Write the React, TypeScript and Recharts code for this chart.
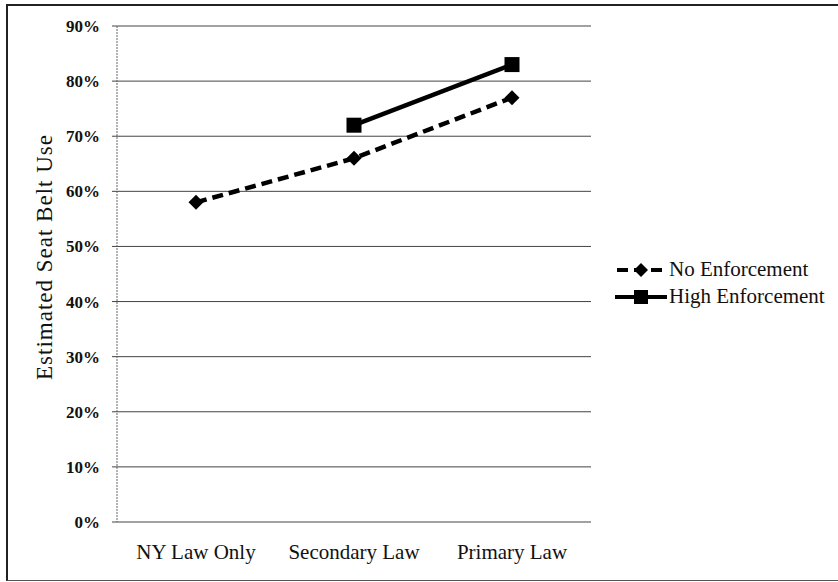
import React from 'react';
import { LineChart, Line, XAxis, YAxis, CartesianGrid, Legend } from 'recharts';

const categories = ['NY Law Only', 'Secondary Law', 'Primary Law'];
const noEnforcement = [58, 66, 77];
const highEnforcement: (number | null)[] = [null, 72, 83];
const yTicks = [0, 10, 20, 30, 40, 50, 60, 70, 80, 90];
const boundaryTicks = [0, 1, 2, 3];
const seriesNames = ['No Enforcement', 'High Enforcement'];

const data = categories.map((name, i) => ({
  name,
  pos: i + 0.5,
  none: noEnforcement[i],
  high: highEnforcement[i],
}));

const FONT = 'Liberation Serif';

const Diamond = (props: any) => {
  const { cx, cy } = props;
  if (cx == null || cy == null) return null;
  const r = 7.5;
  return (
    <polygon
      key={`d-${props.index}`}
      points={`${cx},${cy - r} ${cx + r},${cy} ${cx},${cy + r} ${cx - r},${cy}`}
      fill="#000"
    />
  );
};

const Square = (props: any) => {
  const { cx, cy } = props;
  if (cx == null || cy == null) return null;
  const s = 15;
  return <rect key={`s-${props.index}`} x={cx - s / 2} y={cy - s / 2} width={s} height={s} fill="#000" />;
};

const YLabel = ({ viewBox }: any) => {
  const x = viewBox.x + 44;
  const y = viewBox.y + 231;
  return (
    <text
      x={x}
      y={y}
      transform={`rotate(-90, ${x}, ${y})`}
      textAnchor="middle"
      dominantBaseline="central"
      fontSize={23}
      letterSpacing={1}
      fill="#111"
      fontFamily={FONT}
    >
      Estimated Seat Belt Use
    </text>
  );
};

const renderLegend = () => (
  <div style={{ fontFamily: FONT, fontSize: 21, color: '#111' }}>
    {seriesNames.map((n, i) => (
      <div key={n} style={{ display: 'flex', alignItems: 'center', height: 27 }}>
        <svg width={52} height={20}>
          {i === 0 ? (
            <>
              <line x1={2} y1={10} x2={50} y2={10} stroke="#000" strokeWidth={4} strokeDasharray="11 6" />
              <polygon points="26,3 33,10 26,17 19,10" fill="#000" />
            </>
          ) : (
            <>
              <line x1={0} y1={10} x2={52} y2={10} stroke="#000" strokeWidth={4} />
              <rect x={19} y={3} width={14} height={14} fill="#000" />
            </>
          )}
        </svg>
        <span style={{ marginLeft: 2, fontFamily: FONT }}>{n}</span>
      </div>
    ))}
  </div>
);

export default function App() {
  return (
    <div
      style={{
        position: 'absolute',
        left: 0,
        top: 0,
        width: 838,
        height: 582,
        background: '#fff',
        fontFamily: FONT,
      }}
    >
      <div
        style={{
          position: 'absolute',
          left: 6,
          top: 4,
          width: 840,
          height: 574,
          borderLeft: '2px solid #222',
          borderTop: '2px solid #222',
          borderBottom: '1px solid #555',
        }}
      />
      <LineChart
        width={838}
        height={582}
        data={data}
        margin={{ top: 26, right: 247, bottom: 0, left: 0 }}
        style={{ fontFamily: FONT }}
      >
        <CartesianGrid vertical={false} stroke="#444" strokeWidth={1} />
        <XAxis
          xAxisId="num"
          type="number"
          dataKey="pos"
          domain={[0, 3]}
          ticks={boundaryTicks}
          tick={false}
          tickSize={6}
          height={0}
          axisLine={{ stroke: '#111', strokeWidth: 1.5 }}
          tickLine={{ stroke: '#111', strokeWidth: 1.2 }}
        />
        <XAxis
          xAxisId="cat"
          dataKey="name"
          scale="band"
          height={60}
          axisLine={false}
          tickLine={false}
          tickSize={0}
          tickMargin={22}
          interval={0}
          tick={{ fill: '#111', fontSize: 21, fontFamily: FONT }}
        />
        <YAxis
          width={117}
          domain={[0, 90]}
          ticks={yTicks}
          interval={0}
          tickFormatter={(v: number) => `${v}%`}
          tickSize={5}
          tickMargin={12}
          axisLine={{ stroke: '#666', strokeDasharray: '2 1' }}
          tickLine={{ stroke: '#444' }}
          tick={{ fill: '#111', fontSize: 17, fontWeight: 'bold', fontFamily: FONT }}
          label={<YLabel />}
        />
        <Legend
          layout="horizontal"
          verticalAlign="middle"
          align="center"
          wrapperStyle={{ left: 615, top: 256, width: 223 }}
          content={renderLegend}
        />
        <Line
          xAxisId="cat"
          dataKey="none"
          name={seriesNames[0]}
          stroke="#000"
          strokeWidth={4.5}
          strokeDasharray="11 6"
          dot={Diamond}
          activeDot={false}
          isAnimationActive={false}
        />
        <Line
          xAxisId="cat"
          dataKey="high"
          name={seriesNames[1]}
          stroke="#000"
          strokeWidth={4.5}
          dot={Square}
          activeDot={false}
          isAnimationActive={false}
        />
      </LineChart>
    </div>
  );
}
